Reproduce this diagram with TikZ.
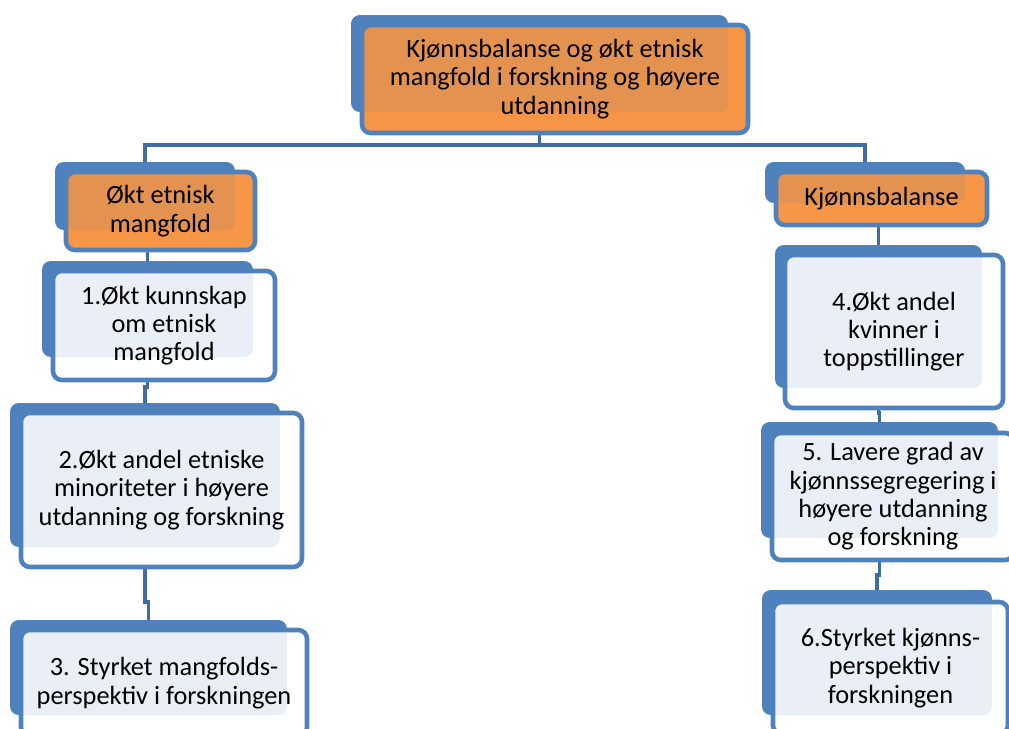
\documentclass[tikz,border=0pt]{standalone}
\usepackage{fontspec}
\setmainfont{Carlito}
\usepackage{tikz}
\usetikzlibrary{fit, backgrounds}

\definecolor{blaa}{HTML}{4F81BD}
\definecolor{strek}{HTML}{3F6CA2}
\definecolor{oransje}{HTML}{F79646}
\definecolor{morkoransje}{HTML}{E3924F}
\definecolor{lys}{HTML}{EAEFF7}

\begin{document}
\begin{tikzpicture}[x=0.02cm, y=-0.02cm,
  bak/.style={fill=blaa, rounded corners=5pt, inner sep=0pt, outer sep=0pt},
  boks/.style={draw=blaa, line width=2.6pt, fill=white, rounded corners=5pt,
    inner sep=0pt, outer sep=0pt,
    path picture={\fill[lys, rounded corners=5pt] (#1.north west) rectangle (#1.south east);}},
  oboks/.style={draw=blaa, line width=2.6pt, fill=oransje, rounded corners=5pt,
    inner sep=0pt, outer sep=0pt,
    path picture={\fill[morkoransje, rounded corners=5pt] (#1.north west) rectangle (#1.south east);}},
  tekst/.style={align=center, inner sep=0pt, font=\fontsize{15}{16.1}\selectfont},
  kobling/.style={draw=strek, line width=2.2pt}]
  \useasboundingbox (0,0) rectangle (1009,728);
  \clip (0,0) rectangle (1009,728);

  % Toppboks
  \node[bak, fit={(351,15) (728,112)}] (toppb) {};
  \node[oboks=toppb, fit={(362,25) (748,133)}] (topp) {};
  \node[tekst] (toppt) at (topp.center)
    {Kjønnsbalanse og økt etnisk\\mangfold i forskning og høyere\\utdanning};

  % Venstre gren: etnisk mangfold
  \node[bak, fit={(55,162) (235,230)}] (etnb) {};
  \node[oboks=etnb, fit={(66,172) (255,250)}] (etn) {};
  \node[tekst] (etnt) at (etn.center) {Økt etnisk\\mangfold};
  \node[bak, fit={(42,261) (253,357)}] (m1b) {};
  \node[boks=m1b, fit={(53,271) (275,380)}] (m1) {};
  \node[tekst] (m1t) at (m1.center) {1.Økt kunnskap\\om etnisk\\mangfold};
  \node[bak, fit={(10,403) (280,547)}] (m2b) {};
  \node[boks=m2b, fit={(21,413) (302,567)}] (m2) {};
  \node[tekst] (m2t) at (m2.center)
    {2.Økt andel etniske\\minoriteter i høyere\\utdanning og forskning};
  \node[bak, fit={(10,620) (287,715)}] (m3b) {};
  \node[boks=m3b, fit={(21,630) (307,736)}] (m3) {};
  \node[tekst] (m3t) at (m3.center) {3. Styrket mangfolds-\\perspektiv i forskningen};

  % Høyre gren: kjønnsbalanse
  \node[bak, fit={(765,162) (965,203)}] (kjb) {};
  \node[oboks=kjb, fit={(776,172) (987,225)}] (kj) {};
  \node[tekst] (kjt) at (kj.center) {Kjønnsbalanse};
  \node[bak, fit={(775,245) (982,388)}] (m4b) {};
  \node[boks=m4b, fit={(785,255) (1003,408)}] (m4) {};
  \node[tekst] (m4t) at (m4.center) {4.Økt andel\\kvinner i\\toppstillinger};
  \node[bak, fit={(761,422) (998,538)}] (m5b) {};
  \node[boks=m5b, fit={(772,433) (1014,560)}] (m5) {};
  \node[tekst] (m5t) at (m5.center)
    {5. Lavere grad av\\kjønnssegregering i\\høyere utdanning\\og forskning};
  \node[bak, fit={(762,590) (992,715)}] (m6b) {};
  \node[boks=m6b, fit={(773,602) (1008,734)}] (m6) {};
  \node[tekst] (m6t) at (m6.center) {6.Styrket kjønns-\\perspektiv i\\forskningen};

  % Koblinger bak boksene
  \begin{pgfonlayer}{background}
    \draw[kobling] (toppb.south) -- ++(0,33) -| (etnb.north);
    \draw[kobling] (toppb.south) -- ++(0,33) -| (kjb.north);
    \draw[kobling] (etnb.south) -- ++(0,15) -| (m1b.north);
    \draw[kobling] (m1b.south) -- ++(0,30) -| (m2b.north);
    \draw[kobling] (m2b.south) -- ++(0,55) -| (m3b.north);
    \draw[kobling] (kjb.south) -- ++(0,22) -| (m4b.north);
    \draw[kobling] (m4b.south) -- ++(0,25) -| (m5b.north);
    \draw[kobling] (m5b.south) -- ++(0,37) -| (m6b.north);
  \end{pgfonlayer}
\end{tikzpicture}
\end{document}
